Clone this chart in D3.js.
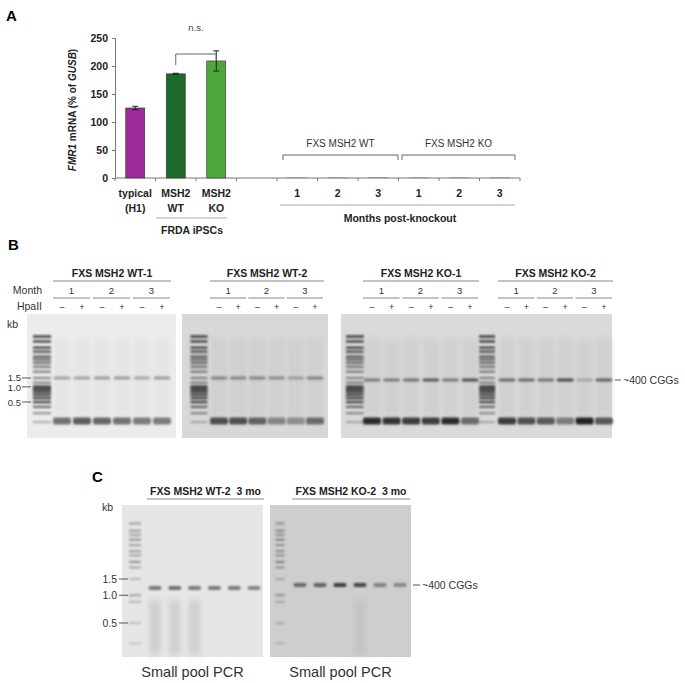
<!DOCTYPE html>
<html><head><meta charset="utf-8">
<script src="https://cdn.jsdelivr.net/npm/d3@7"></script>
<style>body{margin:0;background:#fff}text{font-family:"Liberation Sans",Arial,sans-serif}</style>
</head><body><svg id="c" width="685" height="683"></svg>
<script>
// ---------- Panel A data ----------
const categories = ["typical","MSH2 WT","MSH2 KO","gap","WT1","WT2","WT3","KO1","KO2","KO3"];
const catLabels = [["typical","(H1)"],["MSH2","WT"],["MSH2","KO"],[""],["1"],["2"],["3"],["1"],["2"],["3"]];
const mrnaValues = [125,186,209,null,0.8,0.8,1.2,0.8,0.8,0.8];
const mrnaErrors = [3,1,18,null,0,0,0,0,0,0];
const barColors = ["#9c2a98","#1d6a2b","#4ea73a",null,"#888","#888","#888","#888","#888","#888"];
const yTicks = [0,50,100,150,200,250];

// ---------- Panel B data ----------
const months = ["1","2","3"];
const hpaII = ["–","+","–","+","–","+"];
const gelBTitles = ["FXS MSH2 WT-1","FXS MSH2 WT-2","FXS MSH2 KO-1","FXS MSH2 KO-2"];
const bandB = [[0.35,0.35,0.38,0.38,0.32,0.38],[0.45,0.45,0.45,0.4,0.3,0.45],[0.5,0.5,0.55,0.7,0.5,0.75],[0.6,0.6,0.55,0.8,0.25,0.65]];
const primerB = [[0.6,0.7,0.65,0.6,0.55,0.55],[0.75,0.75,0.65,0.45,0.4,0.6],[0.95,0.9,0.85,0.85,0.95,0.6],[0.85,0.75,0.7,0.5,1,0.7]];
const ladderKb = [10,8,6,5,4,3.5,3,2.5,2,1.5,1.2,1.0,0.9,0.8,0.7,0.6,0.5,0.4,0.3,0.2];
const ladderInt = [0.9,0.85,0.8,0.75,0.7,0.65,0.6,0.55,0.5,0.45,0.5,0.95,0.95,0.9,0.9,0.85,0.8,0.6,0.4,0.25];
const kbTicks = [1.5,1.0,0.5];

// ---------- Panel C data ----------
const gelCTitles = ["FXS MSH2 WT-2\u00a0\u00a03 mo","FXS MSH2 KO-2\u00a0\u00a03 mo"];
const bandC = [[0.55,0.6,0.55,0.55,0.55,0.5],[0.6,0.65,0.85,0.8,0.45,0.4]];
const ladderCKb = [6,5,4.5,4,3.5,3,2.7,2.3,2,1.5,1.0,0.85,0.5,0.3];
const ladderCInt = [0.45,0.5,0.45,0.55,0.45,0.5,0.45,0.55,0.4,0.3,0.45,0.3,0.25,0.2];

const svg = d3.select("#c");
const defs = svg.append("defs");
defs.append("filter").attr("id","blur").attr("x","-20%").attr("y","-100%").attr("width","140%").attr("height","300%")
  .append("feGaussianBlur").attr("stdDeviation","0.9 1.1");
defs.append("filter").attr("id","blur2").attr("x","-50%").attr("y","-20%").attr("width","200%").attr("height","140%")
  .append("feGaussianBlur").attr("stdDeviation","2 3");
const bold = "bold";

// ================= Panel A =================
svg.append("text").attr("x",6).attr("y",21).attr("font-size",15).attr("font-weight",bold).text("A");
const x = d3.scaleBand().domain(categories).range([115,520]).paddingInner(0.53).paddingOuter(0.265);
const y = d3.scaleLinear().domain([0,250]).range([178,38]);
const gA = svg.append("g");
gA.append("g").attr("transform","translate(115,0)")
  .call(d3.axisLeft(y).tickValues(yTicks).tickSize(3).tickPadding(4))
  .call(g=>{g.select(".domain").attr("stroke","#777");g.selectAll("line").attr("stroke","#777");
    g.selectAll("text").attr("font-size",10.5).attr("font-weight",bold).attr("fill","#222").attr("font-family","Liberation Sans, Arial");});
gA.append("line").attr("x1",115).attr("x2",520).attr("y1",178).attr("y2",178).attr("stroke","#777");
categories.forEach((c,i)=>{const xb=x(c)-x.step()*x.paddingInner()/2;
  gA.append("line").attr("x1",xb).attr("x2",xb).attr("y1",178).attr("y2",181).attr("stroke","#777");});
gA.append("line").attr("x1",520).attr("x2",520).attr("y1",178).attr("y2",181).attr("stroke","#777");
categories.forEach((c,i)=>{
  const v=mrnaValues[i]; if(v==null) return;
  gA.append("rect").attr("x",x(c)).attr("width",x.bandwidth()).attr("y",y(v)).attr("height",y(0)-y(v))
    .attr("fill",barColors[i]).attr("stroke",i<3?"#333":"#999").attr("stroke-width",i<3?0.6:0.5);
  const e=mrnaErrors[i];
  if(e>0){const cx=x(c)+x.bandwidth()/2;
    gA.append("line").attr("x1",cx).attr("x2",cx).attr("y1",y(v+e)).attr("y2",y(v-e)).attr("stroke","#222");
    [v+e,v-e].forEach(t=>gA.append("line").attr("x1",cx-3).attr("x2",cx+3).attr("y1",y(t)).attr("y2",y(t)).attr("stroke","#222"));}
  catLabels[i].forEach((t,j)=>gA.append("text").attr("x",x(c)+x.bandwidth()/2).attr("y",197+j*15)
    .attr("text-anchor","middle").attr("font-size",10.5).attr("font-weight",bold).attr("fill","#222").text(t));
});
gA.append("line").attr("x1",156).attr("x2",227).attr("y1",218).attr("y2",218).attr("stroke","#aaa");
gA.append("text").attr("x",192).attr("y",234).attr("text-anchor","middle").attr("font-size",10.5).attr("font-weight",bold).attr("fill","#222").text("FRDA iPSCs");
const c1=x("MSH2 WT")+x.bandwidth()/2, c2=x("MSH2 KO")+x.bandwidth()/2;
gA.append("path").attr("d",`M${c1},65V54H${c2}V60`).attr("fill","none").attr("stroke","#666");
gA.append("text").attr("x",(c1+c2)/2).attr("y",31).attr("text-anchor","middle").attr("font-size",9.5).attr("fill","#444").text("n.s.");
gA.append("text").attr("transform","translate(76,110) rotate(-90)").attr("text-anchor","middle").attr("font-size",10).attr("font-weight",bold).attr("fill","#222")
  .html('<tspan font-style="italic">FMR1</tspan> mRNA (% of <tspan font-style="italic">GUSB</tspan>)');
[["FXS MSH2 WT",283,398],["FXS MSH2 KO",402,515]].forEach(([t,a,b])=>{
  gA.append("path").attr("d",`M${a},160V155H${b}V160`).attr("fill","none").attr("stroke","#666");
  gA.append("text").attr("x",(a+b)/2).attr("y",147).attr("text-anchor","middle").attr("font-size",10).attr("fill","#333").text(t);});
gA.append("line").attr("x1",280).attr("x2",515).attr("y1",205).attr("y2",205).attr("stroke","#aaa");
gA.append("text").attr("x",400).attr("y",222).attr("text-anchor","middle").attr("font-size",10.5).attr("font-weight",bold).attr("fill","#222").text("Months post-knockout");

// ================= Gel helpers =================
function drawGel(g, x0,x1,y0,y1,bg){
  g.append("rect").attr("x",x0).attr("y",y0).attr("width",x1-x0).attr("height",y1-y0).attr("fill",bg);
}
function drawLadder(g, cx, w, yS, kbs, ints, dark){
  kbs.forEach((k,i)=>g.append("rect").attr("x",cx-w/2).attr("width",w).attr("y",yS(k)-1.1).attr("height",2.2)
    .attr("fill",dark).attr("opacity",ints[i]).attr("filter","url(#blur)"));
}
function band(g,cx,w,yy,h,op){
  g.append("rect").attr("x",cx-w/2).attr("width",w).attr("y",yy-h/2).attr("height",h).attr("rx",2)
    .attr("fill","#222").attr("opacity",op).attr("filter","url(#blur)");
}

// ================= Panel B =================
svg.append("text").attr("x",8).attr("y",250).attr("font-size",15).attr("font-weight",bold).text("B");
const yB = d3.scaleLog().domain([1.5,0.5]).range([378,402]);
const gB = svg.append("g");
[[27,176,"#ececec"],[182,328,"#d8d8d8"],[341,612,"#dadada"]].forEach(G=>drawGel(gB,G[0],G[1],314,438,G[2]));
const laneSets = [[62,162],[219,315],[372,470],[507,604]];
const ladderX = [42,199,355,487];
const ladderW = [18,17,18,16];
ladderX.forEach((lx,i)=>drawLadder(gB,lx,ladderW[i],yB,ladderKb,ladderInt,"#111"));
laneSets.forEach((rng,gi)=>{
  const ls=d3.scalePoint().domain(d3.range(6)).range(rng);
  d3.range(6).forEach(li=>{
    const cx=ls(li);
    gB.append("rect").attr("x",cx-8).attr("width",16).attr("y",338).attr("height",80).attr("fill",gi==0?"#e2e2e2":"#cbcbcb").attr("opacity",0.6).attr("filter","url(#blur2)");
    band(gB,cx,17,gi<2?378:380,3,bandB[gi][li]);
    band(gB,cx,18,421,7,primerB[gi][li]);
  });
  const t0=rng[0]-9,t1=rng[1]+9;
  gB.append("text").attr("x",(t0+t1)/2).attr("y",277).attr("text-anchor","middle").attr("font-size",10.5).attr("font-weight",bold).attr("fill","#222").text(gelBTitles[gi]);
  gB.append("line").attr("x1",t0).attr("x2",t1).attr("y1",281).attr("y2",281).attr("stroke","#888");
  months.forEach((m,mi)=>{const a=ls(mi*2)-9,b=ls(mi*2+1)+8;
    gB.append("line").attr("x1",a).attr("x2",b).attr("y1",298).attr("y2",298).attr("stroke","#888");
    gB.append("text").attr("x",(a+b)/2).attr("y",294).attr("text-anchor","middle").attr("font-size",9.5).attr("fill","#333").text(m);});
  hpaII.forEach((h,hi)=>gB.append("text").attr("x",ls(hi)).attr("y",310).attr("text-anchor","middle").attr("font-size",9).attr("fill","#333").text(h));
});
gB.append("text").attr("x",42).attr("y",294).attr("text-anchor","end").attr("font-size",10.5).attr("fill","#333").text("Month");
gB.append("text").attr("x",42).attr("y",310).attr("text-anchor","end").attr("font-size",10.5).attr("fill","#333").text("HpaII");
gB.append("text").attr("x",7).attr("y",328).attr("font-size",10.5).attr("fill","#333").text("kb");
kbTicks.forEach(k=>{gB.append("text").attr("x",21).attr("y",yB(k)+(k==1.5?2.5:4)).attr("text-anchor","end").attr("font-size",9.5).attr("fill","#333").text(k.toFixed(1));
  gB.append("line").attr("x1",22).attr("x2",31).attr("y1",yB(k)).attr("y2",yB(k)).attr("stroke","#555");});
gB.append("line").attr("x1",615).attr("x2",621).attr("y1",380).attr("y2",380).attr("stroke","#555");
gB.append("text").attr("x",623).attr("y",384).attr("font-size",10.5).attr("fill","#333").text("~400 CGGs");

// ================= Panel C =================
svg.append("text").attr("x",92).attr("y",482).attr("font-size",15).attr("font-weight",bold).text("C");
const yC = d3.scaleLog().domain([1.5,0.5]).range([579,623]);
const gC = svg.append("g");
drawGel(gC,122,263,505,657,"#e6e6e6");
drawGel(gC,270,411,505,657,"#cecece");
drawLadder(gC,135,12,yC,ladderCKb,ladderCInt,"#555");
drawLadder(gC,280,9,yC,ladderCKb,ladderCInt,"#444");
[[155,254],[300,400]].forEach((rng,gi)=>{
  const ls=d3.scalePoint().domain(d3.range(6)).range(rng);
  d3.range(6).forEach(li=>{
    if((gi==0&&li<3)||(gi==1&&li==3)) gC.append("rect").attr("x",ls(li)-6).attr("width",12).attr("y",600).attr("height",55).attr("fill","#bcbcbc").attr("opacity",0.5).attr("filter","url(#blur2)");
    band(gC,ls(li),13,gi==0?588:585,4,bandC[gi][li]);
  });
  const t0=rng[0]-8,t1=rng[1]+10;
  gC.append("text").attr("x",(t0+t1)/2).attr("y",495).attr("text-anchor","middle").attr("font-size",10.5).attr("font-weight",bold).attr("fill","#222").text(gelCTitles[gi]);
  gC.append("line").attr("x1",t0).attr("x2",t1).attr("y1",499).attr("y2",499).attr("stroke","#888");
  gC.append("text").attr("x",(gi==0?122+263:270+411)/2).attr("y",677).attr("text-anchor","middle").attr("font-size",14.5).attr("fill","#333").text("Small pool PCR");
});
gC.append("text").attr("x",102).attr("y",511).attr("font-size",10.5).attr("fill","#333").text("kb");
kbTicks.forEach(k=>{gC.append("text").attr("x",117).attr("y",yC(k)+4).attr("text-anchor","end").attr("font-size",10.5).attr("fill","#333").text(k.toFixed(1));
  gC.append("line").attr("x1",119).attr("x2",128).attr("y1",yC(k)).attr("y2",yC(k)).attr("stroke","#555");});
gC.append("line").attr("x1",413).attr("x2",420).attr("y1",585).attr("y2",585).attr("stroke","#555");
gC.append("text").attr("x",422).attr("y",589).attr("font-size",10.5).attr("fill","#333").text("~400 CGGs");
</script></body></html>
